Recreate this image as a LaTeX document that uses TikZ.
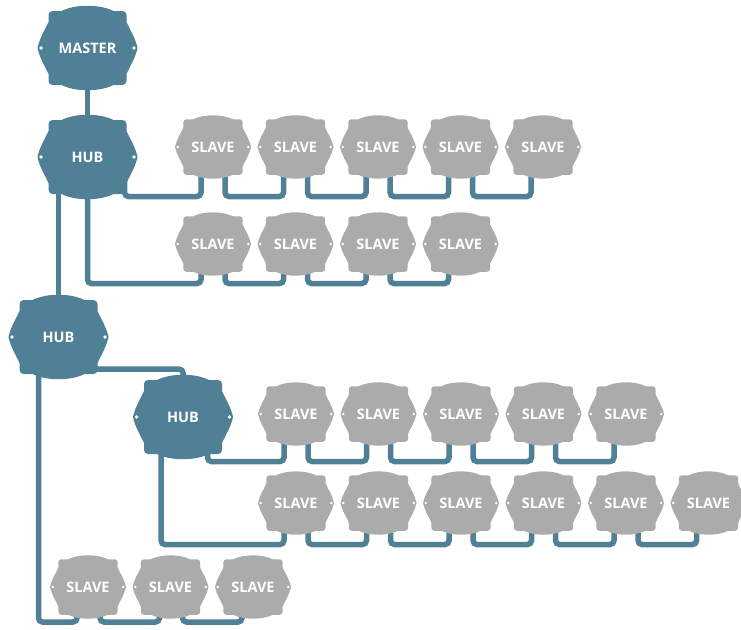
\documentclass[tikz,border=0pt]{standalone}
\usepackage{fontspec}
\newfontfamily\labelfont{Open Sans}
\usetikzlibrary{calc}
\definecolor{hubc}{HTML}{4F8096}
\definecolor{slavec}{HTML}{ABABAB}
\definecolor{wirec}{HTML}{4F8096}
\pgfdeclarelayer{bg}
\pgfsetlayers{bg,main}
\tikzset{
  blob/.pic={
    \fill (-50,0) .. controls (-48,10) and (-42,19) .. (-39,26) -- (-39,33)
      arc[start angle=180,end angle=90,radius=4] -- (-26,37)
      .. controls (-12,44) and (12,44) .. (26,37) -- (35,37)
      arc[start angle=90,end angle=0,radius=4] -- (39,26)
      .. controls (42,19) and (48,10) .. (50,0)
      .. controls (48,-10) and (42,-19) .. (39,-26) -- (39,-33)
      arc[start angle=0,end angle=-90,radius=4] -- (26,-37)
      .. controls (12,-44) and (-12,-44) .. (-26,-37) -- (-35,-37)
      arc[start angle=-90,end angle=-180,radius=4] -- (-39,-26)
      .. controls (-42,-19) and (-48,-10) .. (-50,0) -- cycle;
    \fill[white] (-46.5,0) circle[radius=1.8] (46.5,0) circle[radius=1.8];
  },
  hubblob/.style={fill=hubc},
  slaveblob/.style={fill=slavec, xscale=0.76, yscale=0.75},
  lbl/.style={text=white, inner sep=0pt, font=\labelfont\bfseries\fontsize{14.5}{16}\selectfont},
  wire/.style={draw=wirec, line width=5.5pt, rounded corners=4pt},
}
\newcommand\hubat[4]{\pic[hubblob] at (#2,#3) {blob}; \node[lbl] (#1) at (#2,#3) {#4};}
\newcommand\slaveat[3]{\pic[slaveblob] at (#2,#3) {blob}; \node[lbl] (#1) at (#2,#3) {SLAVE};}
\begin{document}
\begin{tikzpicture}[x=1pt,y=-1pt]
\useasboundingbox (0,0) rectangle (741,629);
% hubs
\hubat{master}{87.5}{48}{MASTER}
\hubat{h1}{87.5}{157}{HUB}
\hubat{h2}{58.5}{337}{HUB}
\hubat{h3}{183}{417}{HUB}
% slave rows
\slaveat{s11}{213}{147}
\slaveat{s12}{295.5}{147}
\slaveat{s13}{378}{147}
\slaveat{s14}{460.5}{147}
\slaveat{s15}{543}{147}
\slaveat{s21}{213}{244}
\slaveat{s22}{295.5}{244}
\slaveat{s23}{378}{244}
\slaveat{s24}{460.5}{244}
\slaveat{s31}{296}{414}
\slaveat{s32}{378.5}{414}
\slaveat{s33}{461}{414}
\slaveat{s34}{543.5}{414}
\slaveat{s35}{626}{414}
\slaveat{s41}{296}{503}
\slaveat{s42}{378.5}{503}
\slaveat{s43}{461}{503}
\slaveat{s44}{543.5}{503}
\slaveat{s45}{626}{503}
\slaveat{s46}{708.5}{503}
\slaveat{s51}{88}{587}
\slaveat{s52}{170.5}{587}
\slaveat{s53}{253}{587}
\begin{pgfonlayer}{bg}
% hub links
\draw[wire] (master) -- (h1);
\draw[wire] ($(h1)+(-29,0)$) -- (h2);
\draw[wire] ($(h2)+(35,0)$) |- ($(h3)+(0,-48)$) -- (h3);
% row 1
\draw[wire] ($(h1)+(37,0)$) |- ($(s11)+(-12,49.5)$) -- ($(s11)+(-12,0)$);
\foreach \a/\b in {s11/s12,s12/s13,s13/s14,s14/s15}
  \draw[wire] ($(\a)+(12,0)$) |- ($(\b)+(-12,49.5)$) -- ($(\b)+(-12,0)$);
% row 2
\draw[wire] (h1) |- ($(s21)+(-12,39.5)$) -- ($(s21)+(-12,0)$);
\foreach \a/\b in {s21/s22,s22/s23,s23/s24}
  \draw[wire] ($(\a)+(12,0)$) |- ($(\b)+(-12,39.5)$) -- ($(\b)+(-12,0)$);
% row 3
\draw[wire] ($(h3)+(24.5,0)$) |- ($(s31)+(-12,47.5)$) -- ($(s31)+(-12,0)$);
\foreach \a/\b in {s31/s32,s32/s33,s33/s34,s34/s35}
  \draw[wire] ($(\a)+(12,0)$) |- ($(\b)+(-12,47.5)$) -- ($(\b)+(-12,0)$);
% row 4
\draw[wire] ($(h3)+(-22,0)$) |- ($(s41)+(-12,41.5)$) -- ($(s41)+(-12,0)$);
\foreach \a/\b in {s41/s42,s42/s43,s43/s44,s44/s45,s45/s46}
  \draw[wire] ($(\a)+(12,0)$) |- ($(\b)+(-12,41.5)$) -- ($(\b)+(-12,0)$);
% row 5
\draw[wire] ($(h2)+(-20,0)$) |- ($(s51)+(-11,35)$) -- ($(s51)+(-11,0)$);
\foreach \a/\b in {s51/s52,s52/s53}
  \draw[wire] ($(\a)+(12,0)$) |- ($(\b)+(-11,35)$) -- ($(\b)+(-11,0)$);
\end{pgfonlayer}
\end{tikzpicture}
\end{document}
